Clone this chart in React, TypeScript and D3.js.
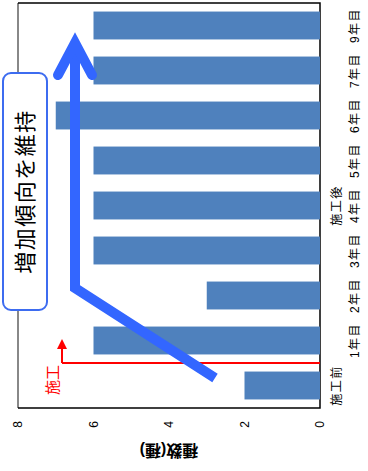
import React from 'react';
import * as d3 from 'd3';

// chart data (the chart is drawn upright, then turned -90deg as a whole)
const categories = ['施工前', '1年目', '2年目', '3年目', '4年目', '5年目', '6年目', '7年目', '9年目'];
const values = [2, 6, 3, 6, 6, 6, 7, 6, 6];
const phaseLabels = ['施工前', '', '', '', '施工後', '', '', '', ''];
const yearLabels = ['', '1年目', '2年目', '3年目', '4年目', '5年目', '6年目', '7年目', '9年目'];
const yTicks = [0, 2, 4, 6, 8];

const W = 368;
const H = 471;
const FONT = '"Liberation Sans", "Noto Sans CJK JP", sans-serif';

const App = () => {
  // upright frame is H wide, W tall
  const left = 63;
  const right = 468;
  const top = 18;
  const bottom = 320;

  const x = d3.scaleBand<string>()
    .domain(categories)
    .range([left, right])
    .paddingInner(0.38)
    .paddingOuter(0.19);

  const y = d3.scaleLinear()
    .domain([0, 8])
    .range([bottom, top]);

  // boundary between 施工前 and 施工後
  const markX = (x('施工前')! + x.bandwidth() + x('1年目')!) / 2;

  const arrowPath = d3.line()([
    [93, 215],
    [183, 75],
    [428, 75],
  ]);
  const headPath = d3.line()([
    [396, 58],
    [428, 75],
    [396, 92],
  ]);

  return (
    <svg width={W} height={H} style={{ position: 'absolute', left: 0, top: 0 }}>
      <rect width={W} height={H} fill="#fff" />
      <g transform={`translate(0,${H}) rotate(-90)`}>
        {/* plot frame */}
        <line x1={left} x2={right} y1={top} y2={top} stroke="#888" strokeWidth={2} />
        <path d={`M${left},${top}V${bottom}H${right}V${top}`} fill="none" stroke="#000" strokeWidth={1.5} />

        {/* bars */}
        {categories.map((c, i) => (
          <rect
            key={c}
            x={x(c)}
            y={y(values[i])}
            width={x.bandwidth()}
            height={y(0) - y(values[i])}
            fill="#4f81bd"
          />
        ))}

        {/* value ticks */}
        {yTicks.map(t => (
          <text key={t} x={50} y={y(t)} dy="0.35em" textAnchor="end"
            fontFamily={FONT} fontSize={12} fill="#000">{t}</text>
        ))}
        <text transform={`translate(20,${(top + bottom) / 2}) rotate(-90)`}
          textAnchor="middle" dy="0.35em" fontFamily={FONT} fontSize={16} fontWeight="bold">
          種数(種)
        </text>

        {/* category labels, two rows */}
        {categories.map((c, i) => (
          <g key={c}>
            {phaseLabels[i] && (
              <text x={x(c)! + x.bandwidth() / 2} y={337} dy="0.35em" textAnchor="middle"
                fontFamily={FONT} fontSize={12} letterSpacing={1.5}>{phaseLabels[i]}</text>
            )}
            {yearLabels[i] && (
              <text x={x(c)! + x.bandwidth() / 2} y={355} dy="0.35em" textAnchor="middle"
                fontFamily={FONT} fontSize={12} letterSpacing={1.5}>{yearLabels[i]}</text>
            )}
          </g>
        ))}

        {/* 施工 marker */}
        <line x1={markX} x2={markX} y1={bottom} y2={62} stroke="#ff0000" strokeWidth={2} />
        <line x1={markX} x2={124} y1={62} y2={62} stroke="#ff0000" strokeWidth={2} />
        <path d={`M132,62L122,57L122,67Z`} fill="#ff0000" />
        <text x={markX - 2} y={53} dy="0.35em" textAnchor="end" fontFamily={FONT}
          fontSize={15} fill="#ff0000">施工</text>

        {/* trend arrow */}
        <path d={arrowPath!} fill="none" stroke="#3366ff" strokeWidth={10} strokeLinejoin="miter" />
        <path d={headPath!} fill="none" stroke="#3366ff" strokeWidth={10} strokeLinecap="round" strokeLinejoin="miter" />

        {/* callout */}
        <rect x={161} y={3} width={237} height={44} rx={8} fill="#fff" stroke="#3d6cf0" strokeWidth={2} />
        <text x={279.5} y={25} dy="0.35em" textAnchor="middle" fontFamily={FONT}
          fontSize={22} letterSpacing={1.5}>増加傾向を維持</text>
      </g>
    </svg>
  );
};

export default App;
